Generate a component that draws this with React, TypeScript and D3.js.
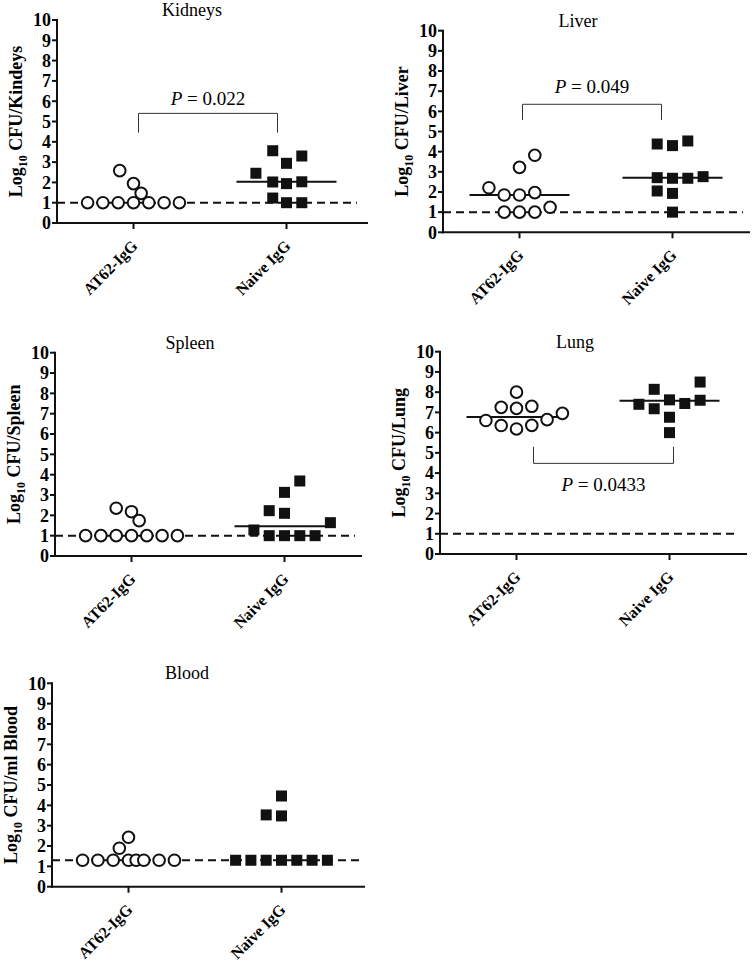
import React from 'react';
import * as d3 from 'd3';

const FONT = '"Liberation Serif", "Times New Roman", Times, serif';

const categories = ['AT62-IgG', 'Naive IgG'];
const yTickValues = [0, 1, 2, 3, 4, 5, 6, 7, 8, 9, 10];

// Each point: [log10 CFU value, horizontal column offset in marker slots]
const kidneysAT62: [number, number][] = [
  [1, -3], [1, -2], [1, -1], [1, 0], [1, 1], [1, 2], [1, 3],
  [2.58, -0.9], [1.94, 0], [1.46, 0.5],
];
const kidneysNaive: [number, number][] = [
  [2.45, -2], [3.56, -0.9], [2.02, -0.9], [1.23, -0.9], [2.94, 0],
  [1.94, 0], [1.0, 0], [3.3, 1], [2.03, 1], [1.0, 1],
];
const liverAT62: [number, number][] = [
  [2.21, -2], [1.85, -1], [1.85, 0], [1.97, 1], [3.22, 0],
  [3.82, 1], [1.0, -1], [1.0, 0], [1.0, 1], [1.24, 2],
];
const liverNaive: [number, number][] = [
  [4.38, -1], [4.3, 0], [4.53, 1], [2.71, -1], [2.68, 0],
  [2.68, 1], [2.76, 2], [2.05, -1], [1.93, 0], [1.0, 0],
];
const spleenAT62: [number, number][] = [
  [1, -3], [1, -2], [1, -1], [1, 0], [1, 1], [1, 2], [1, 3],
  [2.35, -1], [2.18, 0], [1.74, 0.5],
];
const spleenNaive: [number, number][] = [
  [1.28, -2], [2.23, -1], [2.1, 0], [3.13, 0], [3.69, 1],
  [1.64, 3], [1, -1], [1, 0], [1, 1], [1, 2],
];
const lungAT62: [number, number][] = [
  [6.6, -2], [7.25, -1], [6.35, -1], [8.0, 0], [7.2, 0],
  [6.18, 0], [7.3, 1], [6.36, 1], [6.64, 2], [6.95, 3],
];
const lungNaive: [number, number][] = [
  [7.4, -2], [8.14, -1], [7.18, -1], [7.62, 0], [6.76, 0],
  [6.0, 0], [7.44, 1], [8.5, 2], [7.6, 2],
];
const bloodAT62: [number, number][] = [
  [1.3, -3], [1.3, -2], [1.3, -1], [1.3, 0], [1.3, 0.5], [1.3, 1],
  [1.3, 2], [1.3, 3], [1.89, -0.6], [2.43, 0],
];
const bloodNaive: [number, number][] = [
  [1.3, -3], [1.3, -2], [1.3, -1], [1.3, 0], [1.3, 1], [1.3, 2],
  [1.3, 3], [3.53, -1], [4.46, 0], [3.48, 0],
];

const medians = {
  kidneys: [null, 2.03],
  liver: [1.85, 2.71],
  spleen: [null, 1.46],
  lung: [6.77, 7.58],
  blood: [null, null],
} as Record<string, (number | null)[]>;

const detectionLimits = { kidneys: 1, liver: 1, spleen: 1, lung: 1, blood: 1.3 } as Record<string, number>;

const pValues = {
  kidneys: { label: '0.022', bar: 5.4, tip: 4.45, text: 5.8 },
  liver: { label: '0.049', bar: 6.35, tip: 5.57, text: 6.9 },
  lung: { label: '0.0433', bar: 4.48, tip: 5.3, text: 3.1 },
} as Record<string, { label: string; bar: number; tip: number; text: number }>;

type Pt = [number, number];

interface PanelDef {
  key: string;
  title: string;
  yLabel: string;
  at62: Pt[];
  naive: Pt[];
  x0: number;
  yTop: number;
  yBottom: number;
  axisW: number;
  dashW: number;
  bracketDx: [number, number];
}

const panels: PanelDef[] = [
  { key: 'kidneys', title: 'Kidneys', yLabel: 'CFU/Kindeys', at62: kidneysAT62, naive: kidneysNaive,
    x0: 57, yTop: 20, yBottom: 223, axisW: 311, dashW: 300, bracketDx: [5, -9] },
  { key: 'liver', title: 'Liver', yLabel: 'CFU/Liver', at62: liverAT62, naive: liverNaive,
    x0: 443, yTop: 30.7, yBottom: 232.3, axisW: 307, dashW: 300, bracketDx: [3, -11] },
  { key: 'spleen', title: 'Spleen', yLabel: 'CFU/Spleen', at62: spleenAT62, naive: spleenNaive,
    x0: 55, yTop: 352.7, yBottom: 556, axisW: 307, dashW: 300, bracketDx: [0, 0] },
  { key: 'lung', title: 'Lung', yLabel: 'CFU/Lung', at62: lungAT62, naive: lungNaive,
    x0: 440, yTop: 351.7, yBottom: 554, axisW: 307, dashW: 298, bracketDx: [17, 4] },
  { key: 'blood', title: 'Blood', yLabel: 'CFU/ml Blood', at62: bloodAT62, naive: bloodNaive,
    x0: 52, yTop: 683.3, yBottom: 886.7, axisW: 313, dashW: 311, bracketDx: [0, 0] },
];

const SLOT = 15.3;
const R = 5.8;
const SQ = 11;
const MED_HALF = 50;

function Panel({ p }: { p: PanelDef }) {
  const x = d3.scalePoint<string>().domain(categories).range([p.x0, p.x0 + 306]).padding(0.5);
  const y = d3.scaleLinear().domain([0, 10]).range([p.yBottom, p.yTop]);
  const xa = x(categories[0])!;
  const xn = x(categories[1])!;
  const med = medians[p.key];
  const lim = detectionLimits[p.key];
  const pv = pValues[p.key];
  const midY = (p.yTop + p.yBottom) / 2;
  const labelX = p.x0 - 41;
  return (
    <g>
      <text x={p.x0 + 135} y={p.yTop - 4} textAnchor="middle" fontFamily={FONT} fontSize={18}>{p.title}</text>
      <line x1={p.x0} x2={p.x0} y1={p.yTop - 1} y2={p.yBottom + 1} stroke="#111" strokeWidth={2} />
      {yTickValues.map((t) => (
        <g key={t}>
          <line x1={p.x0 - 5} x2={p.x0} y1={y(t)} y2={y(t)} stroke="#111" strokeWidth={2} />
          <text x={p.x0 - 6} y={y(t)} dy="0.35em" textAnchor="end" fontFamily={FONT} fontWeight="bold" fontSize={18}>{t}</text>
        </g>
      ))}
      <line x1={p.x0 - 1} x2={p.x0 + p.axisW} y1={p.yBottom} y2={p.yBottom} stroke="#111" strokeWidth={2} />
      {categories.map((c) => (
        <g key={c}>
          <line x1={x(c)} x2={x(c)} y1={p.yBottom} y2={p.yBottom + 6} stroke="#111" strokeWidth={2} />
          <text transform={`translate(${x(c)! + 5},${p.yBottom + 24}) rotate(-45)`} textAnchor="end" fontFamily={FONT} fontWeight="bold" fontSize={16}>{c}</text>
        </g>
      ))}
      <text transform={`translate(${labelX},${midY}) rotate(-90)`} textAnchor="middle" dy="0.35em" fontFamily={FONT} fontWeight="bold" fontSize={18}>
        Log<tspan fontSize={12} dy="5">10</tspan><tspan dy="-5"> {p.yLabel}</tspan>
      </text>
      <line x1={p.x0} x2={p.x0 + p.dashW} y1={y(lim)} y2={y(lim)} stroke="#111" strokeWidth={2} strokeDasharray="8,5" />
      {med[0] != null && <line x1={xa - MED_HALF} x2={xa + MED_HALF} y1={y(med[0]!)} y2={y(med[0]!)} stroke="#111" strokeWidth={2} />}
      {med[1] != null && <line x1={xn - MED_HALF} x2={xn + MED_HALF} y1={y(med[1]!)} y2={y(med[1]!)} stroke="#111" strokeWidth={2} />}
      {p.at62.map(([v, c], i) => (
        <circle key={'a' + i} cx={xa + c * SLOT} cy={y(v)} r={R} fill="#fff" stroke="#111" strokeWidth={2} />
      ))}
      {p.naive.map(([v, c], i) => (
        <rect key={'n' + i} x={xn + c * SLOT - SQ / 2} y={y(v) - SQ / 2} width={SQ} height={SQ} fill="#111" />
      ))}
      {pv && (
        <g>
          <path d={`M${xa + p.bracketDx[0]},${y(pv.tip)}V${y(pv.bar)}H${xn + p.bracketDx[1]}V${y(pv.tip)}`} fill="none" stroke="#333" strokeWidth={1} />
          <text x={(xa + p.bracketDx[0] + xn + p.bracketDx[1]) / 2} y={y(pv.text)} textAnchor="middle" fontFamily={FONT} fontSize={19}>
            <tspan fontStyle="italic">P</tspan> = {pv.label}
          </text>
        </g>
      )}
    </g>
  );
}

export default function App() {
  return (
    <svg width={755} height={966} style={{ position: 'absolute', left: 0, top: 0, display: 'block', background: '#fff' }}>
      <rect width={755} height={966} fill="#fff" />
      {panels.map((p) => (
        <Panel key={p.key} p={p} />
      ))}
    </svg>
  );
}
